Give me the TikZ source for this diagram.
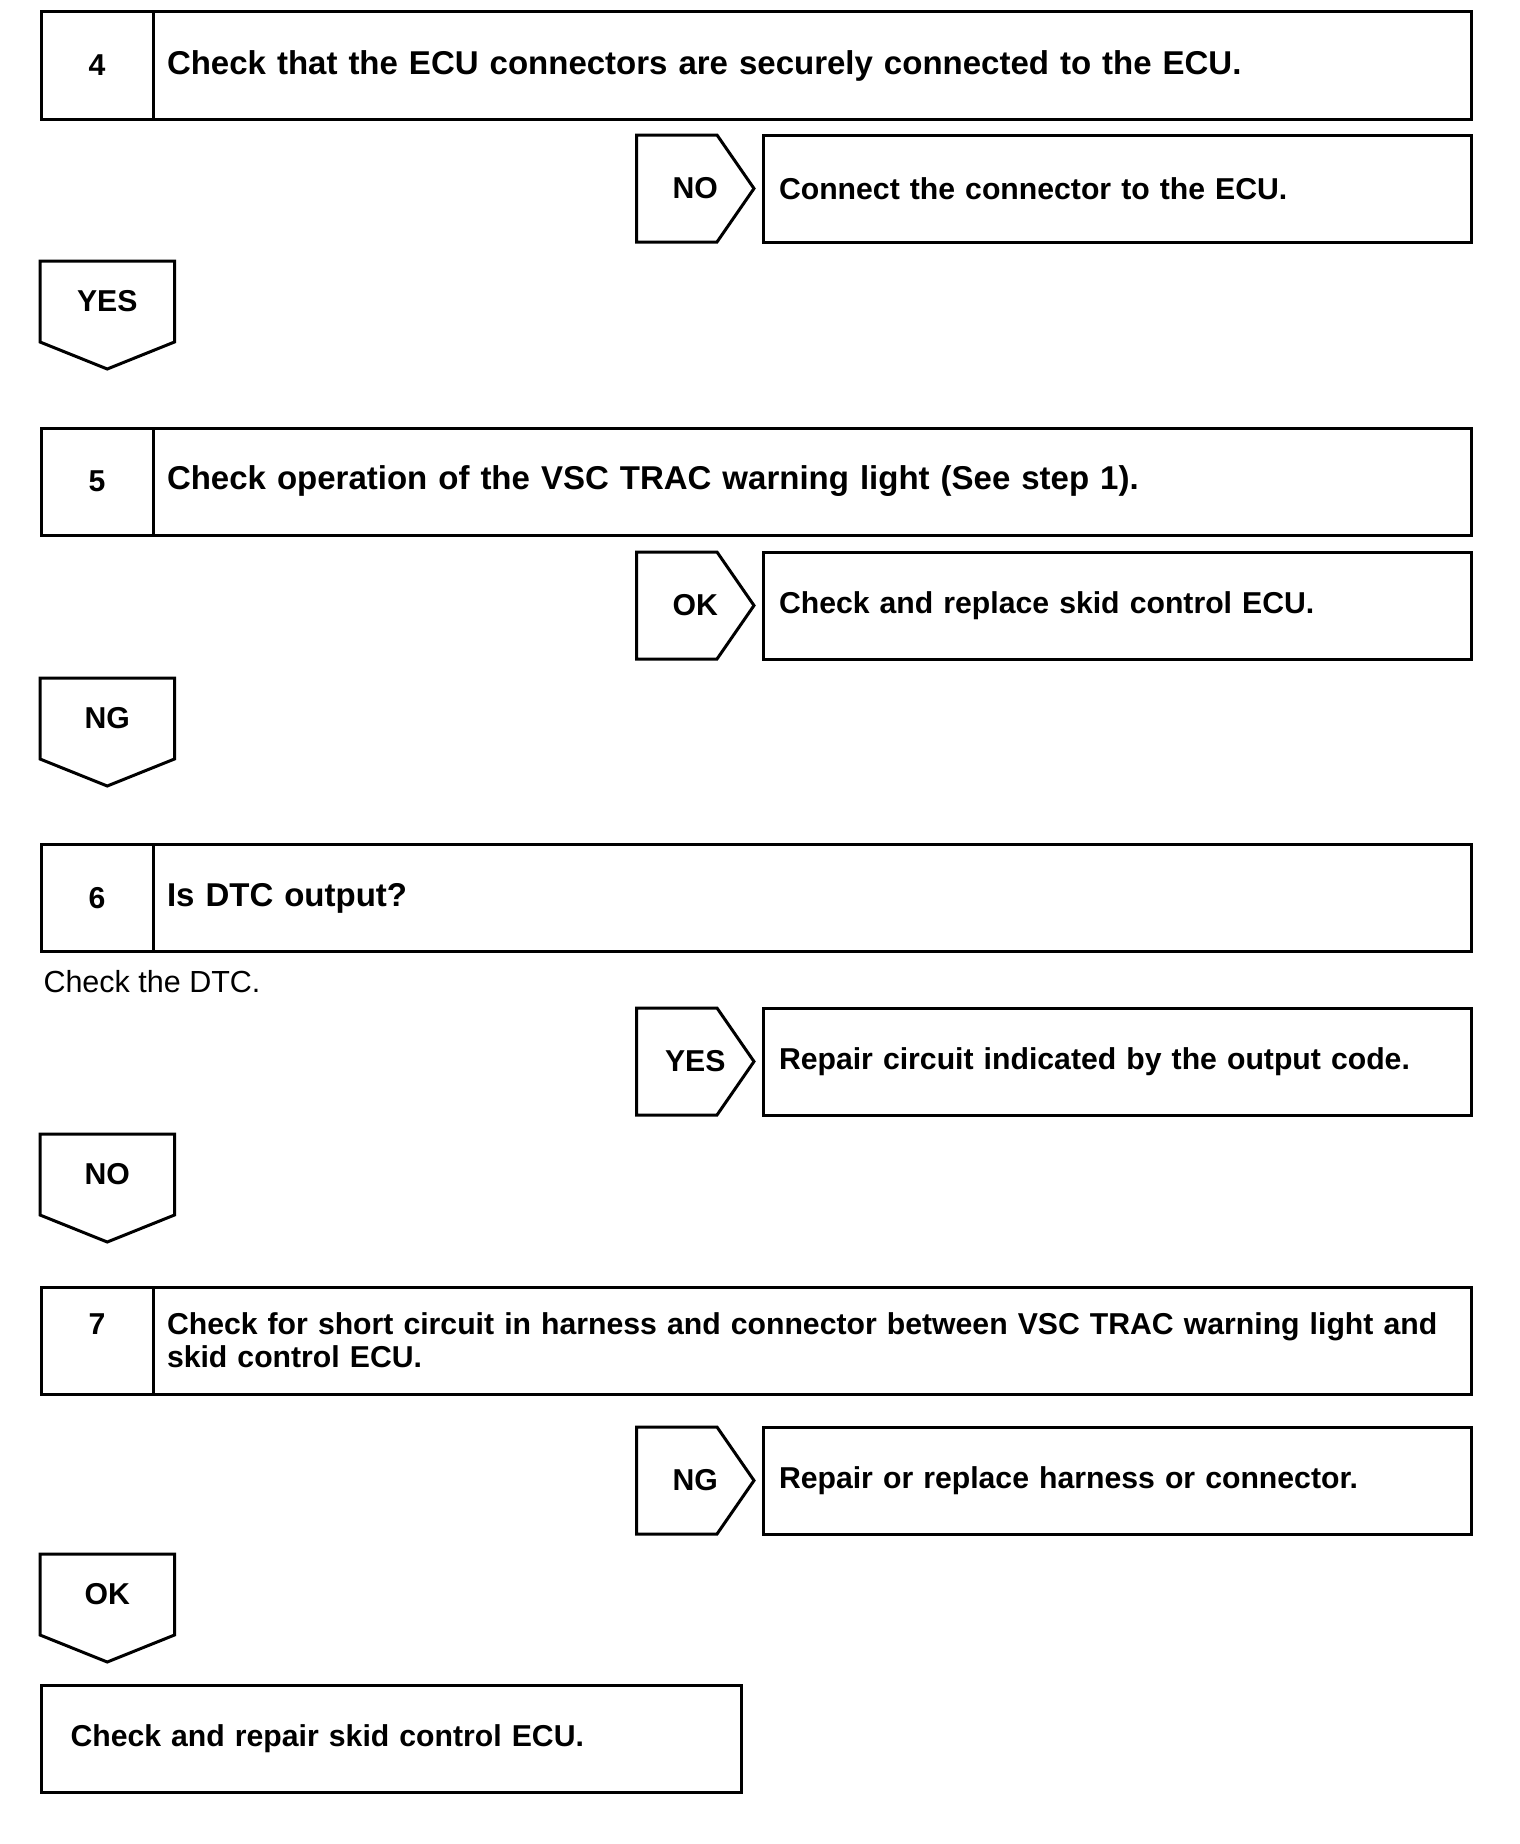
\documentclass[tikz,border=0pt]{standalone}
\usepackage{fontspec}
\setmainfont{Liberation Sans}
\usetikzlibrary{positioning}

\begin{document}
\begin{tikzpicture}[
    x=1pt, y=-1pt,
    line width=3pt,
    txt/.style={font=\fontsize{30.2}{33}\selectfont\bfseries},
    bigtxt/.style={font=\fontsize{33}{36}\selectfont\bfseries},
    numbox/.style={draw, txt, inner sep=0pt, outer sep=0pt, minimum width=112pt, minimum height=107pt, align=center},
    stepbox/.style={draw, bigtxt, inner xsep=14pt, inner ysep=0pt, outer sep=0pt, text width=1290pt, minimum height=107pt, align=left},
    ansbox/.style={draw, txt, inner xsep=16pt, inner ysep=0pt, outer sep=0pt, text width=676pt, minimum height=107pt, align=left},
    sidetag/.style={txt, inner sep=0pt, outer sep=0pt, minimum width=117.5pt, minimum height=107pt},
    downtag/.style={txt, inner sep=0pt, outer sep=0pt, minimum width=134.5pt, minimum height=81pt}
]
\useasboundingbox (0,0) rectangle (1520,1844);

% step 4
\node[numbox] (n4) at (97,65.5) {4};
\node[stepbox, right=0pt of n4] (s4) {Check that the ECU connectors are securely connected to the ECU.};
\node[sidetag] (no4) at (695.25,188.5) {NO};
\node[ansbox, right=9pt of no4] (a4) {Connect the connector to the ECU.};
\node[downtag] (yes4) at (107.25,301.5) {YES};

% step 5
\node[numbox] (n5) at (97,481.5) {5};
\node[stepbox, right=0pt of n5] (s5) {Check operation of the VSC TRAC warning light (See step 1).};
\node[sidetag] (ok5) at (695.25,605.5) {OK};
\node[ansbox, right=9pt of ok5] (a5) {Check and replace skid control ECU.};
\node[downtag] (ng5) at (107.25,718.5) {NG};

% step 6
\node[numbox] (n6) at (97,898) {6};
\node[stepbox, right=0pt of n6] (s6) {Is DTC output?};
\node[anchor=west, inner sep=0pt, font=\fontsize{30.5}{34}\selectfont] (dtc) at (42,982) {Check the DTC.};
\node[sidetag] (yes6) at (695.25,1061.5) {YES};
\node[ansbox, right=9pt of yes6] (a6) {Repair circuit indicated by the output code.};
\node[downtag] (no6) at (107.25,1174.5) {NO};

% step 7
\node[numbox] (n7) at (97,1340.5) {7\\\phantom{7}};
\node[stepbox, txt, right=0pt of n7] (s7) {Check for short circuit in harness and connector between VSC TRAC warning light and\\skid control ECU.};
\node[sidetag] (ng7) at (695.25,1480.5) {NG};
\node[ansbox, right=9pt of ng7] (a7) {Repair or replace harness or connector.};
\node[downtag] (ok7) at (107.25,1594.5) {OK};

\node[draw, txt, inner xsep=29.5pt, inner ysep=0pt, text width=641pt, minimum height=107pt, align=left] (fin) at (391,1738.5) {Check and repair skid control ECU.};

% tags
\foreach \t in {no4, ok5, yes6, ng7}
  \draw (\t.north west) -- ([xshift=-37pt]\t.north east) -- (\t.east) -- ([xshift=-37pt]\t.south east) -- (\t.south west) -- cycle;
\foreach \t in {yes4, ng5, no6, ok7}
  \draw (\t.north west) -- (\t.north east) -- (\t.south east) -- ([yshift=-27pt]\t.south) -- (\t.south west) -- cycle;
\end{tikzpicture}
\end{document}
